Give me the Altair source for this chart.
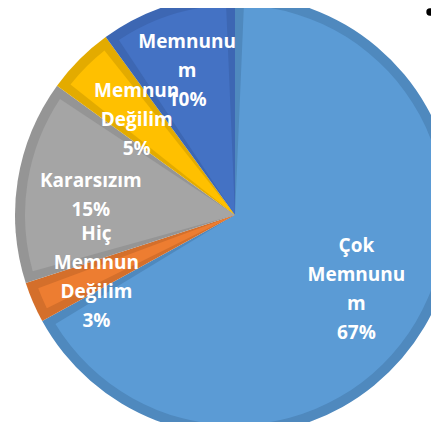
import altair as alt
import pandas as pd

categories = ["Çok Memnunum", "Hiç Memnun Değilim", "Kararsızım", "Memnun Değilim", "Memnunum"]
labels = ["Çok\nMemnunu\nm\n67%", "Hiç\nMemnun\nDeğilim\n3%", "Kararsızım\n15%", "Memnun\nDeğilim\n5%", "Memnunu\nm\n10%"]
values = [67, 3, 15, 5, 10]
fill_colors = ["#5B9BD5", "#ED7D31", "#A5A5A5", "#FFC000", "#4472C4"]
edge_colors = ["#4F89BE", "#D46F2B", "#959595", "#E3AB00", "#3D67B3"]

df = pd.DataFrame({
    "cat": categories,
    "label": labels,
    "value": values,
    "idx": list(range(len(categories))),
})

CX, CY, R = 227, 207, 220
LH = 29
# label distance from the centre, per slice (style only)
label_r = {"Çok Memnunum": 141, "Hiç Memnun Değilim": 151, "Kararsızım": 146,
           "Memnun Değilim": 139, "Memnunum": 155}

theta = alt.Theta("value:Q", stack=True)
order = alt.Order("idx:Q")

base = alt.Chart(df).encode(theta=theta, order=order,
                            x=alt.value(CX), y=alt.value(CY))

edge = base.mark_arc(outerRadius=R).encode(
    color=alt.Color("cat:N", scale=alt.Scale(domain=categories, range=edge_colors), legend=None)
)
inner = base.mark_arc(outerRadius=R - 10, padAngle=0.085).encode(
    color=alt.Color("cat:N", scale=alt.Scale(domain=categories, range=fill_colors), legend=None)
)

layers = [edge, inner]
for cat, lab in zip(categories, labels):
    n = lab.count("\n") + 1
    t = base.transform_calculate(
        shown=f"datum.cat === {cat!r} ? datum.label : ''"
    ).mark_text(radius=label_r[cat], font="Open Sans", fontWeight="bold", fontSize=19,
                color="white", lineBreak="\n", lineHeight=LH,
                align="center", baseline="middle", dy=-(n - 1) * LH / 2 + 3).encode(text="shown:N")
    layers.append(t)

dot = alt.Chart(alt.Data(values=[{"a": 1}])).mark_circle(color="black", opacity=1, size=55).encode(
    x=alt.value(422), y=alt.value(4)
)
layers.append(dot)

chart = alt.layer(*layers).resolve_scale(color="independent").properties(
    width=423, height=414, padding=0, autosize=alt.AutoSizeParams(type="none")
).configure_view(stroke=None)

chart.save("out.html", embed_options={"renderer": "svg", "actions": False})
